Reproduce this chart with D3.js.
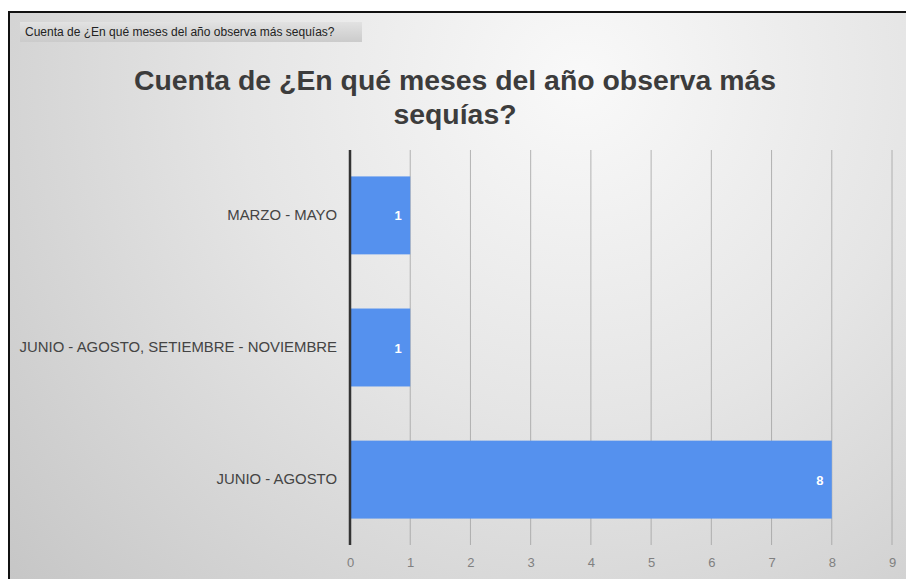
<!DOCTYPE html>
<html>
<head>
<meta charset="utf-8">
<script src="https://cdn.jsdelivr.net/npm/d3@7"></script>
<style>
  html, body { margin: 0; padding: 0; background: #fff; }
  svg { display: block; }
  text { font-family: "Liberation Sans", Arial, sans-serif; }
</style>
</head>
<body>
<svg id="chart" width="906" height="579"></svg>
<script>
// Survey answers: months with most drought, and how many respondents chose each
const categories = ["MARZO - MAYO", "JUNIO - AGOSTO, SETIEMBRE - NOVIEMBRE", "JUNIO - AGOSTO"];
const counts = [1, 1, 8];
const xTicks = [0, 1, 2, 3, 4, 5, 6, 7, 8, 9];
const titleLines = ["Cuenta de ¿En qué meses del año observa más", "sequías?"];
const tabLabel = "Cuenta de ¿En qué meses del año observa más sequías?";

const W = 906, H = 579;
const svg = d3.select("#chart");
const defs = svg.append("defs");

// soft grey backdrop, lighter toward the upper middle
const bg = defs.append("radialGradient").attr("id", "bg")
  .attr("gradientUnits", "userSpaceOnUse")
  .attr("cx", 580).attr("cy", 80).attr("r", 760);
bg.append("stop").attr("offset", 0).attr("stop-color", "#f9f9f9");
bg.append("stop").attr("offset", 0.45).attr("stop-color", "#e5e5e5");
bg.append("stop").attr("offset", 1).attr("stop-color", "#c6c6c6");

const tab = defs.append("linearGradient").attr("id", "tab")
  .attr("x1", 0).attr("y1", 0).attr("x2", 0).attr("y2", 1);
tab.append("stop").attr("offset", 0).attr("stop-color", "#e2e2e2");
tab.append("stop").attr("offset", 1).attr("stop-color", "#cbcbcb");

// panel with its dark frame (open to the right and bottom)
svg.append("rect").attr("x", 9).attr("y", 12).attr("width", W).attr("height", H)
  .attr("fill", "url(#bg)");
svg.append("path").attr("d", `M9,${H} V12 H${W}`)
  .attr("fill", "none").attr("stroke", "#111").attr("stroke-width", 2);

// field tab at top left
svg.append("rect").attr("x", 20).attr("y", 22).attr("width", 342).attr("height", 20)
  .attr("fill", "url(#tab)");
svg.append("text").attr("x", 25).attr("y", 36)
  .attr("font-size", 12).attr("fill", "#222").text(tabLabel);

// title
svg.append("g").selectAll("text").data(titleLines).join("text")
  .attr("x", 455).attr("y", (d, i) => 90 + i * 34)
  .attr("text-anchor", "middle")
  .attr("font-size", 28.4).attr("font-weight", "bold").attr("fill", "#3c3c3c")
  .text(d => d);

// scales
const x = d3.scaleLinear().domain([0, 9]).range([350, 892]);
const y = d3.scaleBand().domain(categories).range([150, 545]).paddingInner(0.41).paddingOuter(0.2);

const plotTop = 150, plotBottom = 545;

// vertical gridlines
svg.append("g").selectAll("line").data(xTicks.filter(t => t > 0)).join("line")
  .attr("x1", d => x(d)).attr("x2", d => x(d))
  .attr("y1", plotTop).attr("y2", plotBottom)
  .attr("stroke", "#9e9e9e").attr("stroke-opacity", 0.75).attr("stroke-width", 1);

// bars
svg.append("g").selectAll("rect").data(counts).join("rect")
  .attr("x", x(0))
  .attr("y", (d, i) => y(categories[i]))
  .attr("width", d => x(d) - x(0))
  .attr("height", y.bandwidth())
  .attr("fill", "#5591ee");

// value labels inside bar ends
svg.append("g").selectAll("text").data(counts).join("text")
  .attr("x", d => x(d) - 12)
  .attr("y", (d, i) => y(categories[i]) + y.bandwidth() / 2 + 5)
  .attr("text-anchor", "middle")
  .attr("font-size", 13).attr("font-weight", "bold").attr("fill", "#fff")
  .text(d => d);

// zero baseline
svg.append("line").attr("x1", x(0)).attr("x2", x(0))
  .attr("y1", plotTop).attr("y2", plotBottom)
  .attr("stroke", "#333").attr("stroke-width", 2.5);

// category axis labels
const yAxis = d3.axisLeft(y).tickSize(0).tickPadding(13);
const gy = svg.append("g").attr("transform", `translate(${x(0)},0)`).call(yAxis);
gy.select(".domain").remove();
gy.selectAll("text").attr("font-size", 14.9).attr("fill", "#444")
  .style("font-family", "'Liberation Sans', Arial, sans-serif");

// value axis labels
const xAxis = d3.axisBottom(x).tickValues(xTicks).tickSize(0).tickPadding(13).tickFormat(d3.format("d"));
const gx = svg.append("g").attr("transform", `translate(0,${plotBottom})`).call(xAxis);
gx.select(".domain").remove();
gx.selectAll("text").attr("font-size", 13).attr("fill", "#808080")
  .style("font-family", "'Liberation Sans', Arial, sans-serif");
</script>
</body>
</html>
